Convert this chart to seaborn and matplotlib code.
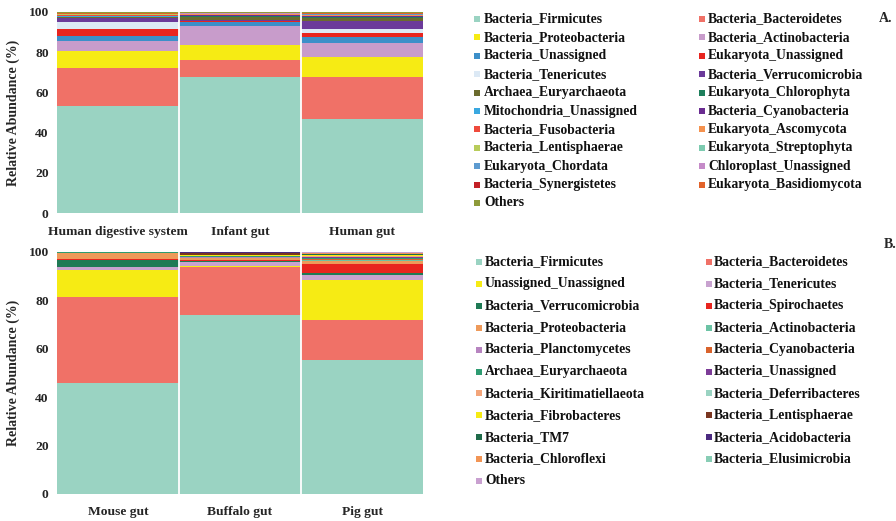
import numpy as np
import pandas as pd
import seaborn as sns
import matplotlib.pyplot as plt
from matplotlib.patches import Rectangle

sns.set_theme(style="white")
plt.rcParams["font.family"] = ["Liberation Serif", "DejaVu Serif"]
plt.rcParams["font.weight"] = "bold"

# ---------------- Panel A: human-associated metagenomes ----------------
samples_a = ["Human digestive system", "Infant gut", "Human gut"]
taxa_a = [
    "Bacteria_Firmicutes", "Bacteria_Bacteroidetes",
    "Bacteria_Proteobacteria", "Bacteria_Actinobacteria",
    "Bacteria_Unassigned", "Eukaryota_Unassigned",
    "Bacteria_Tenericutes", "Bacteria_Verrucomicrobia",
    "Archaea_Euryarchaeota", "Eukaryota_Chlorophyta",
    "Mitochondria_Unassigned", "Bacteria_Cyanobacteria",
    "Bacteria_Fusobacteria", "Eukaryota_Ascomycota",
    "Bacteria_Lentisphaerae", "Eukaryota_Streptophyta",
    "Eukaryota_Chordata", "Chloroplast_Unassigned",
    "Bacteria_Synergistetes", "Eukaryota_Basidiomycota",
    "Others",
]
human_digestive = [53.0, 19.0, 8.8, 4.7, 2.5, 3.3, 3.9, 1.6, 0.5, 0.1, 0.6,
                   0.1, 0.2, 0.4, 0.1, 0.1, 0.1, 0.1, 0.1, 0.3, 0.5]
infant_gut = [67.5, 8.7, 7.5, 9.5, 2.0, 0.2, 0.2, 0.3, 1.6, 0.3, 0.3,
              0.2, 0.2, 0.3, 0.1, 0.2, 0.1, 0.2, 0.1, 0.2, 0.3]
human_gut = [46.7, 20.8, 10.3, 7.0, 2.8, 2.2, 1.5, 4.0, 1.6, 0.5, 0.2,
             0.3, 0.2, 0.3, 0.2, 0.1, 0.1, 0.2, 0.2, 0.3, 0.5]
colors_a = [
    "#9AD3C2", "#F07167", "#F6EB14", "#C89CCB", "#3C8FC9", "#E8251F",
    "#DCE9F5", "#6B3A9A", "#6B6B2E", "#1E7F5C", "#3AA8E0", "#6A2C91",
    "#EF4A3C", "#F5924E", "#B8CC5A", "#7DCBB0", "#5D9BD0", "#C58BC8",
    "#C32026", "#E2632B", "#8E9A3A",
]

# ---------------- Panel B: animal gut metagenomes ----------------
samples_b = ["Mouse gut", "Buffalo gut", "Pig gut"]
taxa_b = [
    "Bacteria_Firmicutes", "Bacteria_Bacteroidetes",
    "Unassigned_Unassigned", "Bacteria_Tenericutes",
    "Bacteria_Verrucomicrobia", "Bacteria_Spirochaetes",
    "Bacteria_Proteobacteria", "Bacteria_Actinobacteria",
    "Bacteria_Planctomycetes", "Bacteria_Cyanobacteria",
    "Archaea_Euryarchaeota", "Bacteria_Unassigned",
    "Bacteria_Kiritimatiellaeota", "Bacteria_Deferribacteres",
    "Bacteria_Fibrobacteres", "Bacteria_Lentisphaerae",
    "Bacteria_TM7", "Bacteria_Acidobacteria",
    "Bacteria_Chloroflexi", "Bacteria_Elusimicrobia",
    "Others",
]
mouse_gut = [45.9, 35.4, 11.3, 1.4, 2.9, 0.1, 2.4, 0.1, 0.1, 0.1, 0.1,
             0.1, 0.1, 0.0, 0.0, 0.0, 0.0, 0.0, 0.0, 0.0, 0.0]
buffalo_gut = [74.1, 19.9, 0.2, 1.8, 0.3, 0.3, 0.8, 0.2, 0.3, 0.2, 0.1,
               0.1, 0.2, 0.0, 0.1, 1.0, 0.1, 0.1, 0.1, 0.0, 0.1]
pig_gut = [55.5, 16.3, 16.6, 2.0, 1.0, 3.7, 1.2, 0.3, 0.3, 0.4, 0.3,
           0.2, 0.5, 0.1, 0.3, 0.2, 0.3, 0.1, 0.1, 0.1, 0.5]
colors_b = [
    "#9AD3C2", "#F07167", "#F6EB14", "#C8A2CF", "#1F7A55", "#E8251F",
    "#EE9A5A", "#6CC3A5", "#B784C0", "#D9632C", "#2E9C72", "#7D3C98",
    "#F3A57A", "#9AD3C2", "#F6EB14", "#7A3520", "#1F6B4A", "#4B2A80",
    "#F29555", "#88CDB5", "#C9A0D0",
]

W, H = 896, 521
fig = plt.figure(figsize=(W / 100, H / 100), dpi=100)


def fx(px):
    return px / W


def fy(py):
    return 1 - py / H


def stacked_panel(rect, samples, taxa, columns, colors):
    ax = fig.add_axes(rect)
    table = pd.DataFrame(np.array(columns).T, index=taxa, columns=samples)
    cum = table.cumsum()
    # draw cumulative heights from the top layer down so each taxon shows its slice
    for taxon, col in reversed(list(zip(taxa, colors))):
        sns.barplot(x=samples, y=cum.loc[taxon].values, order=samples,
                    color=col, saturation=1, width=1, linewidth=0, ax=ax)
    for xb in (0.5, 1.5):
        ax.axvline(xb, color="white", lw=1.3, zorder=5)
    ax.set_xlim(-0.5, 2.5)
    ax.set_ylim(0, 100)
    ax.set_yticks(range(0, 101, 20))
    ax.set_ylabel("Relative Abundance (%)", fontsize=10, fontweight="bold",
                  labelpad=6)
    ax.set_xlabel("")
    ax.tick_params(axis="both", length=0, labelsize=9.7)
    ax.tick_params(axis="y", pad=6)
    ax.tick_params(axis="x", pad=9)
    for lab in ax.get_xticklabels() + ax.get_yticklabels():
        lab.set_fontweight("bold")
    sns.despine(ax=ax, left=True, bottom=True)
    return ax


def draw_legend(taxa, colors, x_sq, x_txt, y0, dy):
    for i, (taxon, col) in enumerate(zip(taxa, colors)):
        c, r = i % 2, i // 2
        y = y0 + r * dy
        fig.add_artist(Rectangle((fx(x_sq[c] - 3), fy(y + 3)),
                                 6 / W, 6 / H, transform=fig.transFigure,
                                 facecolor=col, edgecolor="none"))
        fig.text(fx(x_txt[c]), fy(y), taxon, fontsize=9.8, fontweight="bold",
                 va="center", ha="left", color="#111111")


stacked_panel([fx(57), fy(213), fx(423) - fx(57), fy(12) - fy(213)],
              samples_a, taxa_a, [human_digestive, infant_gut, human_gut],
              colors_a)
stacked_panel([fx(57), fy(494), fx(423) - fx(57), fy(252) - fy(494)],
              samples_b, taxa_b, [mouse_gut, buffalo_gut, pig_gut], colors_b)

draw_legend(taxa_a, colors_a, (477, 702), (484, 708), 19, 18.4)
draw_legend(taxa_b, colors_b, (479, 709), (485, 714), 262, 21.9)

fig.text(fx(879), fy(19), "A.", fontsize=10, fontweight="bold",
         va="center", ha="left")
fig.text(fx(884), fy(245), "B.", fontsize=10, fontweight="bold",
         va="center", ha="left")

fig.savefig("out.png", dpi=100, facecolor="white")
